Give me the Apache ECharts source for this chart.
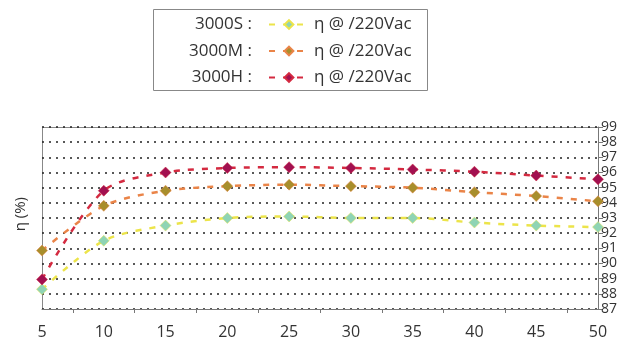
<!DOCTYPE html>
<html>
<head>
<meta charset="utf-8">
<script src="https://cdn.jsdelivr.net/npm/echarts@6/dist/echarts.min.js"></script>
<style>
  html, body { margin: 0; padding: 0; background: #fff; }
  #chart { width: 631px; height: 342px; }
</style>
</head>
<body>
<div id="chart"></div>
<script>
// load (%) on x, efficiency on y
const loads = [5, 10, 15, 20, 25, 30, 35, 40, 45, 50];
const eff3000S = [88.3, 91.5, 92.5, 93.0, 93.1, 93.0, 93.0, 92.7, 92.5, 92.4];
const eff3000M = [90.85, 93.8, 94.8, 95.1, 95.2, 95.1, 95.0, 94.7, 94.45, 94.1];
const eff3000H = [88.95, 94.8, 96.0, 96.3, 96.35, 96.3, 96.2, 96.05, 95.8, 95.55];
const models = ['3000S', '3000M', '3000H'];
const yTicks = [87, 88, 89, 90, 91, 92, 93, 94, 95, 96, 97, 98, 99];

const lineColors = ['#ece44a', '#ea8448', '#d42a40'];
const markColors = ['#8fd4b4', '#a88e2c', '#a21050'];
const font = 'Open Sans';

let chart = echarts.init(document.getElementById('chart'));

function mkSeries(name, vals, i) {
  return {
    name: name,
    type: 'line',
    data: loads.map((x, k) => [x, vals[k]]),
    symbol: 'diamond',
    symbolSize: 11,
    smooth: 0.3,
    lineStyle: { color: lineColors[i], width: 2.5, type: [6, 8] },
    itemStyle: { color: markColors[i], borderColor: lineColors[i], borderWidth: 0.5 },
    z: 3 + i
  };
}

let option = {
  animation: false,
  grid: { left: 42, right: 33, top: 127, bottom: 33, outerBoundsMode: 'none' },
  legend: {
    orient: 'vertical',
    left: 263,
    top: 11,
    itemGap: 9.5,
    itemWidth: 40,
    itemHeight: 11,
    data: models,
    formatter: () => 'η @ /220Vac',
    textStyle: { fontFamily: font, fontSize: 17, color: '#333' }
  },
  graphic: [
    {
      type: 'rect',
      shape: { x: 153.5, y: 9.5, width: 274, height: 81 },
      style: { fill: 'none', stroke: '#888', lineWidth: 1 }
    },
    {
      type: 'text',
      left: 13,
      top: 197,
      rotation: Math.PI / 2,
      style: { text: 'η (%)', font: '15px "Open Sans"', fill: '#333', textAlign: 'center', textVerticalAlign: 'middle' }
    }
  ].concat(models.map((m, i) => ({
    type: 'text',
    right: 631 - 252,
    top: 16 + i * 26.5,
    style: { text: m + ' :', font: '17px "Open Sans"', fill: '#333', textAlign: 'right' }
  }))),
  xAxis: {
    type: 'value',
    min: 5,
    max: 50,
    interval: 5,
    axisLine: { onZero: false, lineStyle: { color: '#777', width: 1 } },
    axisTick: { show: false },
    minorTick: { show: true, splitNumber: 2, length: 4, lineStyle: { color: '#777' } },
    axisLabel: { fontFamily: font, fontSize: 16, color: '#333', margin: 15 },
    splitLine: { show: false }
  },
  yAxis: {
    type: 'value',
    position: 'right',
    min: yTicks[0],
    max: yTicks[yTicks.length - 1],
    interval: 1,
    axisLine: { show: true, lineStyle: { color: '#777' } },
    axisTick: { show: true, length: 5, lineStyle: { color: '#777' } },
    axisLabel: { fontFamily: font, fontSize: 14, color: '#333', margin: 3 },
    splitLine: { show: true, lineStyle: { color: '#222', type: [2, 5], width: 1.5 } }
  },
  series: [
    mkSeries('3000S', eff3000S, 0),
    mkSeries('3000M', eff3000M, 1),
    mkSeries('3000H', eff3000H, 2)
  ]
};

// plot frame
option.graphic.push({
  type: 'rect',
  shape: { x: 42.5, y: 127.5, width: 556, height: 182 },
  style: { fill: 'none', stroke: '#888', lineWidth: 1 },
  silent: true
});

chart.setOption(option);
</script>
</body>
</html>
